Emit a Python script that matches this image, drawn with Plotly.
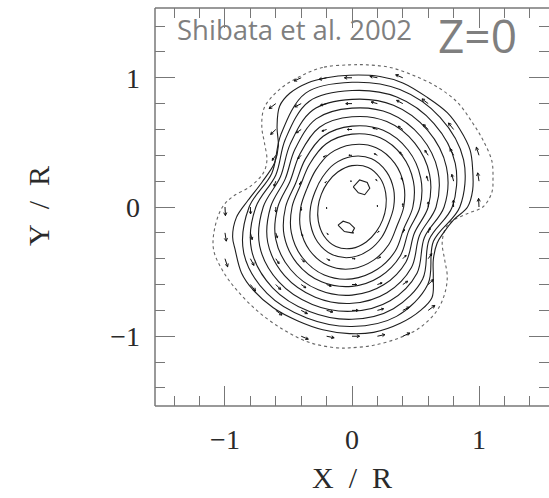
import numpy as np
import plotly.graph_objects as go

# ---- stellar surface (dotted contour), counter-clockwise from the top ----
SURFACE_X = [-0.02, -0.23, -0.41, -0.57, -0.69, -0.71, -0.69, -0.67, -0.70, -0.80, -0.94,
             -1.02, -1.08, -1.09, -1.02, -0.91, -0.75, -0.54, -0.33, -0.12, -0.02, 0.17,
             0.38, 0.54, 0.67, 0.73, 0.75, 0.73, 0.71, 0.73, 0.77, 0.91, 1.03, 1.10, 1.11,
             1.10, 1.03, 0.95, 0.83, 0.67, 0.48, 0.30, 0.12]
SURFACE_Y = [1.10, 1.08, 1.01, 0.91, 0.77, 0.62, 0.50, 0.36, 0.26, 0.16, 0.08,
             0.00, -0.16, -0.33, -0.49, -0.64, -0.80, -0.95, -1.05, -1.09, -1.09, -1.07,
             -1.01, -0.93, -0.80, -0.67, -0.54, -0.41, -0.28, -0.18, -0.12, -0.05, 0.00, 0.11, 0.23,
             0.36, 0.52, 0.65, 0.81, 0.93, 1.02, 1.08, 1.10]

# ---- outermost solid density contour ----
RING1_X = [-0.02, -0.20, -0.35, -0.49, -0.57, -0.59, -0.58, -0.61, -0.71, -0.82, -0.91,
           -0.94, -0.92, -0.87, -0.78, -0.62, -0.43, -0.23, -0.02, 0.17, 0.38, 0.54, 0.63,
           0.64, 0.64, 0.67, 0.72, 0.80, 0.91, 0.95, 0.95, 0.93, 0.85, 0.75, 0.59, 0.40, 0.22]
RING1_Y = [1.02, 1.00, 0.96, 0.88, 0.78, 0.62, 0.47, 0.34, 0.19, 0.05, -0.08,
           -0.23, -0.33, -0.51, -0.64, -0.78, -0.88, -0.95, -0.98, -0.97, -0.90, -0.80, -0.70,
           -0.54, -0.41, -0.28, -0.20, -0.10, 0.00, 0.13, 0.29, 0.44, 0.60, 0.73, 0.85, 0.96, 1.01]

# ---- inner density contours: distance from the centre at each polar angle ----
RING_ANGLES_DEG = [0, 22.5, 45, 67.5, 90, 112.5, 135, 157.5,
                   180, 202.5, 225, 247.5, 270, 292.5, 315, 337.5]
RING2_R = [.849, .951, .981, .984, .965, .954, .792, .683, .810, .923, .946, .930, .925, .916, .845, .694]
RING3_R = [.789, .880, .913, .921, .901, .884, .742, .649, .757, .857, .884, .875, .869, .852, .787, .658]
RING4_R = [.725, .805, .841, .853, .833, .811, .688, .610, .699, .787, .817, .816, .807, .785, .724, .617]
RING5_R = [.662, .732, .769, .784, .765, .738, .634, .569, .641, .718, .751, .755, .745, .718, .662, .575]
RING6_R = [.600, .661, .699, .716, .698, .668, .580, .527, .584, .650, .684, .694, .682, .652, .601, .531]
RING7_R = [.535, .586, .624, .643, .626, .593, .521, .480, .523, .578, .614, .627, .614, .582, .537, .483]
RING8_R = [.479, .523, .560, .580, .564, .530, .471, .439, .472, .517, .553, .570, .556, .522, .482, .441]
RING9_R = [.407, .442, .477, .497, .482, .449, .404, .382, .403, .439, .473, .491, .478, .445, .410, .383]
RING10_R = [.328, .355, .385, .404, .391, .361, .328, .314, .326, .353, .383, .401, .389, .359, .331, .314]
RING11_R = [.267, .287, .314, .331, .320, .293, .270, .261, .267, .287, .314, .331, .320, .293, .270, .261]

# ---- the two density maxima ----
PEAK_A_X = [0.01, 0.06, 0.12, 0.14, 0.10, 0.05]
PEAK_A_Y = [0.155, 0.21, 0.19, 0.145, 0.095, 0.11]
PEAK_B_X = [-0.11, -0.07, -0.02, 0.02, 0.00, -0.06]
PEAK_B_Y = [-0.14, -0.11, -0.125, -0.163, -0.20, -0.19]

# ---- velocity field on the 0.2 grid (units: arrow of length 1 ~ 0.07 R) ----
ARROW_X = [-0.4, -0.2, 0.0, 0.2, 0.4,
           -0.6, -0.4, -0.2, 0.0, 0.2, 0.4, 0.6,
           -0.6, -0.4, -0.2, 0.0, 0.2, 0.4, 0.6, 0.8,
           -0.6, -0.4, -0.2, 0.0, 0.2, 0.4, 0.6, 0.8, 1.0,
           -0.6, -0.4, -0.2, 0.0, 0.2, 0.4, 0.6, 0.8, 1.0,
           -1.0, -0.8, -0.6, -0.4, -0.2, 0.0, 0.2, 0.4, 0.6, 0.8, 1.0,
           -1.0, -0.8, -0.6, -0.4, -0.2, 0.0, 0.2, 0.4, 0.6,
           -1.0, -0.8, -0.6, -0.4, -0.2, 0.0, 0.2, 0.4, 0.6,
           -0.8, -0.6, -0.4, -0.2, 0.0, 0.2, 0.4, 0.6,
           -0.6, -0.4, -0.2, 0.0, 0.2, 0.4, 0.6,
           -0.4, -0.2, 0.0, 0.2, 0.4]
ARROW_Y = [1.0] * 5 + [0.8] * 7 + [0.6] * 8 + [0.4] * 9 + [0.2] * 9 + [0.0] * 11 + \
          [-0.2] * 9 + [-0.4] * 9 + [-0.6] * 8 + [-0.8] * 7 + [-1.0] * 5
ARROW_VX = [-0.80, -0.85, -0.85, -0.85, -0.80,
            -0.75, -0.72, -0.70, -0.70, -0.70, -0.70, -0.70,
            -0.58, -0.55, -0.53, -0.52, -0.52, -0.52, -0.55, -0.58,
            -0.40, -0.37, -0.35, -0.35, -0.35, -0.35, -0.37, -0.40, -0.30,
            -0.20, -0.18, -0.17, -0.17, -0.17, -0.17, -0.18, -0.20, -0.15,
            0.05, 0.02, 0.00, 0.00, 0.00, 0.00, 0.00, 0.00, 0.00, -0.02, -0.05,
            0.15, 0.20, 0.18, 0.17, 0.17, 0.17, 0.17, 0.18, 0.20,
            0.30, 0.40, 0.37, 0.35, 0.35, 0.35, 0.35, 0.37, 0.40,
            0.58, 0.55, 0.52, 0.52, 0.52, 0.53, 0.55, 0.58,
            0.70, 0.70, 0.70, 0.70, 0.70, 0.72, 0.75,
            0.80, 0.85, 0.85, 0.85, 0.80]
ARROW_VY = [-0.35, -0.18, 0.00, 0.17, 0.33,
            -0.55, -0.36, -0.18, 0.00, 0.18, 0.36, 0.52,
            -0.55, -0.37, -0.18, 0.00, 0.18, 0.36, 0.55, 0.72,
            -0.56, -0.37, -0.18, 0.00, 0.18, 0.37, 0.55, 0.74, 0.90,
            -0.56, -0.37, -0.18, 0.00, 0.18, 0.37, 0.55, 0.75, 0.92,
            -0.95, -0.76, -0.56, -0.37, -0.18, 0.00, 0.18, 0.37, 0.56, 0.76, 0.95,
            -0.92, -0.75, -0.55, -0.37, -0.18, 0.00, 0.18, 0.37, 0.56,
            -0.90, -0.74, -0.55, -0.37, -0.18, 0.00, 0.18, 0.37, 0.56,
            -0.72, -0.55, -0.36, -0.18, 0.00, 0.18, 0.37, 0.55,
            -0.52, -0.36, -0.18, 0.00, 0.18, 0.36, 0.55,
            -0.33, -0.17, 0.00, 0.18, 0.35]

AXIS_TICK_LABELS = ["\u22121", "0", "1"]
TEXT_REF = "Shibata et al. 2002"
TEXT_SLICE = "Z=0"

# ---------------------------------------------------------------------------
LINE_COLOR = "#1e1e1e"
FRAME_COLOR = "#777777"
ARROW_SCALE = 0.07


def closed(xs, ys):
    xs, ys = list(xs), list(ys)
    return xs + xs[:1], ys + ys[:1]


fig = go.Figure()

# stellar surface
sx, sy = closed(SURFACE_X, SURFACE_Y)
fig.add_trace(go.Scatter(x=sx, y=sy, mode="lines",
                         line=dict(color="#666666", width=1.1, dash="dot",
                                   shape="spline", smoothing=1.0),
                         hoverinfo="skip"))

# density contours
rings = [(RING1_X, RING1_Y)]
theta = np.deg2rad(RING_ANGLES_DEG)
for radii in [RING2_R, RING3_R, RING4_R, RING5_R, RING6_R,
              RING7_R, RING8_R, RING9_R, RING10_R, RING11_R]:
    r = np.asarray(radii)
    rings.append((r * np.cos(theta), r * np.sin(theta)))

for rx, ry in rings:
    cx, cy = closed(rx, ry)
    fig.add_trace(go.Scatter(x=cx, y=cy, mode="lines",
                             line=dict(color=LINE_COLOR, width=1.1,
                                       shape="spline", smoothing=1.0),
                             hoverinfo="skip"))

for px_, py_ in [(PEAK_A_X, PEAK_A_Y), (PEAK_B_X, PEAK_B_Y)]:
    cx, cy = closed(px_, py_)
    fig.add_trace(go.Scatter(x=cx, y=cy, mode="lines",
                             line=dict(color=LINE_COLOR, width=1.1),
                             hoverinfo="skip"))

# velocity arrows
ax_, ay_ = [], []
head_ang = np.deg2rad(28)
for x0, y0, vx, vy in zip(ARROW_X, ARROW_Y, ARROW_VX, ARROW_VY):
    dx, dy = vx * ARROW_SCALE, vy * ARROW_SCALE
    L = np.hypot(dx, dy)
    if L == 0:
        continue
    x1, y1 = x0 + dx, y0 + dy
    ax_ += [x0, x1, None]
    ay_ += [y0, y1, None]
    hl = 0.4 * L
    ang = np.arctan2(dy, dx)
    for s in (1, -1):
        a = ang + np.pi + s * head_ang
        ax_ += [x1, x1 + hl * np.cos(a), None]
        ay_ += [y1, y1 + hl * np.sin(a), None]
fig.add_trace(go.Scatter(x=ax_, y=ay_, mode="lines",
                         line=dict(color="#111111", width=1.0),
                         hoverinfo="skip"))

tick_font = dict(family="Liberation Serif", size=28, color="#2a2a2a")
axis_common = dict(
    showgrid=False, zeroline=False, showline=False,
    ticks="inside", ticklen=20, tickwidth=1.3, tickcolor=FRAME_COLOR,
    tickmode="array", tickvals=[-1, 0, 1], ticktext=AXIS_TICK_LABELS,
    mirror="ticks", tickfont=tick_font, ticklabelstandoff=14,
    minor=dict(ticks="inside", ticklen=10, tickwidth=1.3, tickcolor=FRAME_COLOR,
               dtick=0.2, tick0=0, showgrid=False),
)

fig.update_layout(
    width=549, height=498,
    margin=dict(l=155, r=0, t=8, b=92),
    paper_bgcolor="white", plot_bgcolor="white",
    showlegend=False,
    xaxis=dict(range=[-1.551, 1.551], **axis_common),
    yaxis=dict(range=[-1.54, 1.54], **axis_common),
)

# frame (left, top, bottom)
for x0, y0, x1, y1 in [(0, 0, 0, 1), (0, 1, 1, 1), (0, 0, 1, 0)]:
    fig.add_shape(type="line", xref="paper", yref="paper",
                  x0=x0, y0=y0, x1=x1, y1=y1,
                  line=dict(color=FRAME_COLOR, width=1.5), layer="above")

title_font = dict(family="Liberation Serif", size=30, color="#2a2a2a")
fig.add_annotation(text="X\u00a0\u00a0/\u00a0\u00a0R", xref="paper", yref="paper",
                   x=0.5, y=-0.18, xanchor="center", yanchor="middle",
                   showarrow=False, font=title_font)
fig.add_annotation(text="Y\u00a0\u00a0/\u00a0\u00a0R", xref="paper", yref="paper",
                   x=-0.297, y=0.5025, xanchor="center", yanchor="middle",
                   textangle=-90, showarrow=False, font=title_font)

fig.add_annotation(text=TEXT_REF, xref="x", yref="y", x=-1.39, y=1.374,
                   xanchor="left", yanchor="middle", showarrow=False,
                   font=dict(family="Open Sans", size=27.5, color="#7f7f7f"))
fig.add_annotation(text=TEXT_SLICE, xref="x", yref="y", x=0.66, y=1.33,
                   xanchor="left", yanchor="middle", showarrow=False,
                   font=dict(family="Open Sans", size=46, color="#7f7f7f"))

fig.write_html("out.html")
